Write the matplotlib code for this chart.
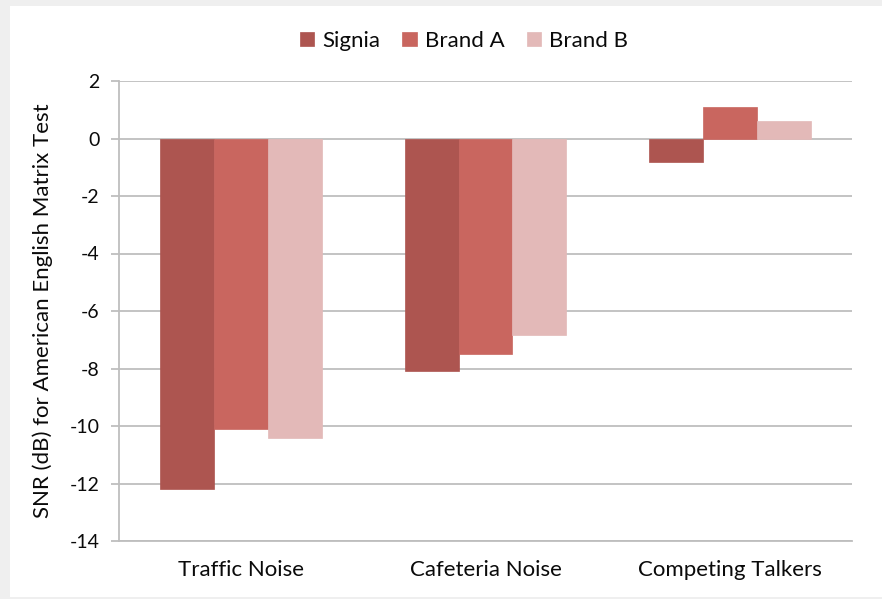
import matplotlib.pyplot as plt
import numpy as np
from matplotlib.patches import Rectangle

plt.rcParams['font.family'] = ['Lato', 'DejaVu Sans']

categories = ["Traffic Noise", "Cafeteria Noise", "Competing Talkers"]
brands = ["Signia", "Brand A", "Brand B"]
signia = [-12.2, -8.1, -0.8]
brand_a = [-10.1, -7.5, 1.1]
brand_b = [-10.4, -6.85, 0.62]
colors = ["#AD5550", "#C9665F", "#E3B9B8"]
yticks = [2, 0, -2, -4, -6, -8, -10, -12, -14]

fig = plt.figure(figsize=(8.82, 5.99), dpi=100)
fig.patch.set_facecolor("#EFEFEF")
# white page area (the screenshot shows a thin grey frame on the top/left)
fig.patches.append(Rectangle((10 / 882, 0.003), 1, 1 - 6 / 599 - 0.003,
                             transform=fig.transFigure, facecolor="white",
                             edgecolor="none", zorder=-5))

ax = fig.add_axes([119 / 882, 1 - 541 / 599, (852 - 119) / 882, (541 - 81) / 599])
ax.set_zorder(2)
ax.set_facecolor("white")

x = np.arange(len(categories))
w = 0.221
grid_col = "#BEBEBE"
txt_col = "#0A0A0A"
for i, (vals, name) in enumerate(zip([signia, brand_a, brand_b], brands)):
    ax.bar(x + (i - 1) * w, vals, width=w, color=colors[i], label=name,
           zorder=3, edgecolor=colors[i], linewidth=0.5)

ax.set_xlim(-0.5, 2.5)
ax.set_ylim(-14, 2)
ax.set_yticks(yticks)
ax.set_yticklabels([str(t) for t in yticks])
ax.set_xticks(x)
ax.set_xticklabels(categories)
ax.yaxis.grid(True, color=grid_col, linewidth=1.3, zorder=0)
ax.set_axisbelow(True)

for s in ["top", "right"]:
    ax.spines[s].set_visible(False)
ax.spines["left"].set_color(grid_col)
ax.spines["bottom"].set_color(grid_col)
ax.spines["left"].set_linewidth(1.3)
ax.spines["bottom"].set_linewidth(1.3)

ax.tick_params(axis="y", direction="out", length=6, width=1.3, color=grid_col,
               labelsize=14, pad=8, labelcolor=txt_col)
ax.tick_params(axis="x", length=0, labelsize=16, pad=14, labelcolor=txt_col)

ax.set_ylabel("SNR (dB) for American English Matrix Test", fontsize=16,
              color=txt_col, labelpad=12)

handles, labels = ax.get_legend_handles_labels()
leg = fig.legend(handles, labels, loc="center", bbox_to_anchor=(0.526, 0.932), ncol=3,
                 frameon=False, fontsize=16, handlelength=0.65, handleheight=0.65,
                 handletextpad=0.35, columnspacing=1.0, labelcolor=txt_col)
leg.set_zorder(3)

fig.savefig("out.png", dpi=100, facecolor=fig.get_facecolor())
